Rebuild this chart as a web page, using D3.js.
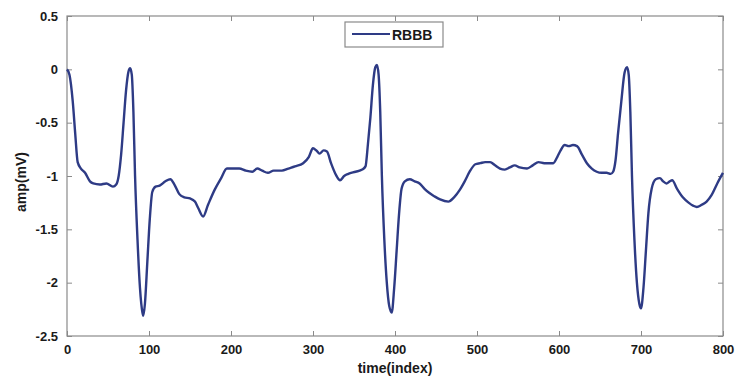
<!DOCTYPE html>
<html>
<head>
<meta charset="utf-8">
<script src="https://cdn.jsdelivr.net/npm/d3@7"></script>
<style>
  html, body { margin: 0; padding: 0; background: #fff; }
  svg { display: block; }
  text { font-family: "Liberation Sans", Arial, sans-serif; font-weight: bold; fill: #1a1a1a; }
</style>
</head>
<body>
<svg id="chart" width="739" height="378"></svg>
<script>
// ---- data ----
const seriesName = "RBBB";
const timeIndex = [0,3,7,10,13,17,22,28,32,40,48,56,60,63,66,69,72,75,77,79,81,83,86,89,92,93,95,98,101,104,108,113,120,126,131,137,143,150,156,160,166,172,180,188,195,202,210,218,226,232,238,245,252,262,270,278,288,295,300,304,308,313,317,322,328,333,338,343,352,360,364,367,370,373,376,378,380,382,384,387,390,393,396,399,402,405,408,412,418,424,430,436,442,448,455,465,472,479,485,491,498,504,510,516,522,528,534,540,546,552,561,568,575,582,588,593,598,602,607,612,617,622,628,634,640,646,652,658,663,666,669,672,676,680,683,685,687,689,692,695,698,700,703,706,709,713,718,723,727,731,735,738,744,751,758,764,768,774,780,786,793,800];
const amplitude = [0,-0.05,-0.3,-0.6,-0.87,-0.93,-0.97,-1.05,-1.07,-1.08,-1.07,-1.1,-1.08,-1.0,-0.8,-0.5,-0.2,-0.02,0.01,-0.05,-0.4,-1.0,-1.6,-2.05,-2.28,-2.31,-2.2,-1.8,-1.4,-1.15,-1.1,-1.09,-1.05,-1.03,-1.08,-1.17,-1.2,-1.21,-1.24,-1.3,-1.38,-1.27,-1.13,-1.02,-0.93,-0.93,-0.93,-0.95,-0.96,-0.93,-0.95,-0.97,-0.95,-0.95,-0.93,-0.91,-0.88,-0.82,-0.74,-0.76,-0.79,-0.76,-0.77,-0.88,-0.99,-1.04,-1.0,-0.98,-0.96,-0.94,-0.91,-0.7,-0.45,-0.15,0.02,0.04,-0.05,-0.4,-1.0,-1.6,-2.0,-2.22,-2.28,-2.05,-1.7,-1.35,-1.12,-1.05,-1.03,-1.05,-1.07,-1.12,-1.16,-1.19,-1.22,-1.24,-1.2,-1.13,-1.05,-0.96,-0.89,-0.88,-0.87,-0.87,-0.9,-0.93,-0.94,-0.92,-0.9,-0.92,-0.93,-0.9,-0.87,-0.88,-0.88,-0.88,-0.82,-0.76,-0.71,-0.72,-0.71,-0.72,-0.8,-0.88,-0.93,-0.96,-0.97,-0.97,-0.98,-0.96,-0.85,-0.6,-0.3,-0.03,0.02,-0.05,-0.4,-1.0,-1.6,-2.0,-2.2,-2.24,-2.05,-1.7,-1.35,-1.12,-1.03,-1.02,-1.05,-1.07,-1.05,-1.04,-1.12,-1.2,-1.25,-1.28,-1.29,-1.27,-1.24,-1.18,-1.07,-0.97];
const xTicks = [0,100,200,300,400,500,600,700,800];
const yTicks = [0.5,0,-0.5,-1,-1.5,-2,-2.5];
const xLabel = "time(index)";
const yLabel = "amp(mV)";

// ---- layout ----
const svg = d3.select("#chart");
const L = 67, R = 723, T = 16, B = 336;
const x = d3.scaleLinear().domain([0, 800]).range([L, R]);
const y = d3.scaleLinear().domain([-2.5, 0.5]).range([B, T]);
const axisColor = "#8a8a8a";
const tickLen = 5;

// frame
svg.append("rect").attr("x", L).attr("y", T).attr("width", R - L).attr("height", B - T)
  .attr("fill", "none").attr("stroke", axisColor).attr("stroke-width", 1.2);

function styleAxis(g, hideText) {
  g.select(".domain").remove();
  g.selectAll(".tick line").attr("stroke", axisColor).attr("stroke-width", 1);
  g.selectAll(".tick text").style("font-size", "13px").attr("fill", "#1a1a1a");
  if (hideText) g.selectAll(".tick text").remove();
}

// bottom / top / left / right axes with inward ticks
svg.append("g").attr("transform", `translate(0,${B})`)
  .call(d3.axisBottom(x).tickValues(xTicks).tickFormat(d3.format("d")).tickSizeInner(-tickLen).tickSizeOuter(0).tickPadding(9))
  .call(g => styleAxis(g, false));
svg.append("g").attr("transform", `translate(0,${T})`)
  .call(d3.axisTop(x).tickValues(xTicks).tickSizeInner(-tickLen).tickSizeOuter(0))
  .call(g => styleAxis(g, true));
svg.append("g").attr("transform", `translate(${L},0)`)
  .call(d3.axisLeft(y).tickValues(yTicks).tickFormat(d => d === 0 ? "0" : String(d)).tickSizeInner(-tickLen).tickSizeOuter(0).tickPadding(9))
  .call(g => styleAxis(g, false));
svg.append("g").attr("transform", `translate(${R},0)`)
  .call(d3.axisRight(y).tickValues(yTicks).tickSizeInner(-tickLen).tickSizeOuter(0))
  .call(g => styleAxis(g, true));

// line
const data = timeIndex.map((t, i) => ({ t, v: amplitude[i] }));
const line = d3.line().x(d => x(d.t)).y(d => y(d.v)).curve(d3.curveMonotoneX);
svg.append("path").datum(data)
  .attr("d", line)
  .attr("fill", "none")
  .attr("stroke", "#2e3b85")
  .attr("stroke-width", 2.4)
  .attr("stroke-linejoin", "round");

// axis titles
svg.append("text").attr("x", (L + R) / 2).attr("y", 373).attr("text-anchor", "middle")
  .style("font-size", "14px").text(xLabel);
svg.append("text").attr("transform", `translate(26,${(T + B) / 2 + 6}) rotate(-90)`)
  .attr("text-anchor", "middle").style("font-size", "14px").text(yLabel);

// legend
const lg = svg.append("g");
lg.append("rect").attr("x", 345).attr("y", 22).attr("width", 98).attr("height", 25)
  .attr("fill", "#fff").attr("stroke", axisColor).attr("stroke-width", 1.2);
lg.append("line").attr("x1", 352).attr("x2", 390).attr("y1", 34).attr("y2", 34)
  .attr("stroke", "#2e3b85").attr("stroke-width", 2);
lg.append("text").attr("x", 392).attr("y", 39.5).style("font-size", "14px").text(seriesName);
</script>
</body>
</html>
